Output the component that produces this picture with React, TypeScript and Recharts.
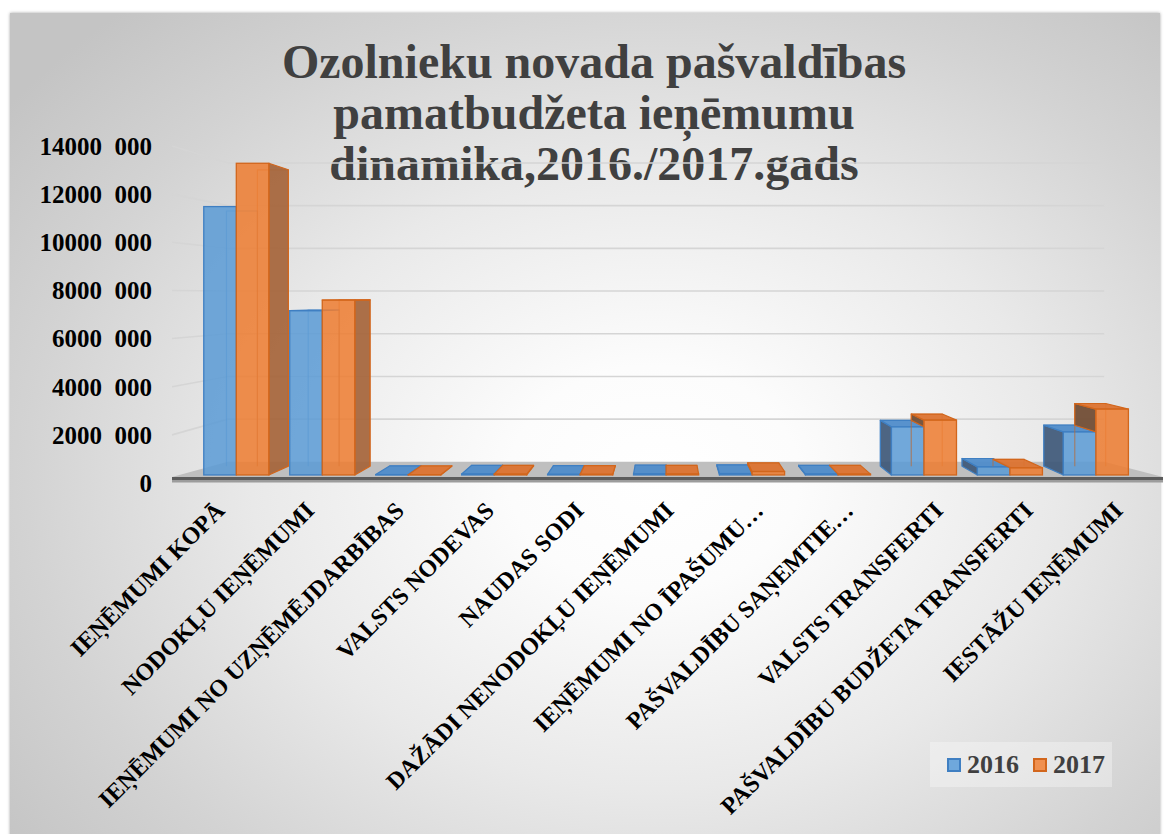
import React from 'react';
import { BarChart, Bar, XAxis, YAxis, CartesianGrid, Legend } from 'recharts';

const CATEGORIES = [
  'IEŅĒMUMI KOPĀ',
  'NODOKĻU IEŅĒMUMI',
  'IEŅĒMUMI NO UZŅĒMĒJDARBĪBAS',
  'VALSTS NODEVAS',
  'NAUDAS SODI',
  'DAŽĀDI NENODOKĻU IEŅĒMUMI',
  'IEŅĒMUMI NO ĪPAŠUMU…',
  'PAŠVALDĪBU SAŅEMTIE…',
  'VALSTS TRANSFERTI',
  'PAŠVALDĪBU BUDŽETA TRANSFERTI',
  'IESTĀŽU IEŅĒMUMI',
];
const VALUES_2016 = [11650000, 7130000, 15000, 40000, 25000, 45000, 60000, 40000, 2090000, 350000, 1870000];
const VALUES_2017 = [13530000, 7590000, 12000, 35000, 25000, 40000, 150000, 35000, 2380000, 310000, 2860000];
const SERIES = ['2016', '2017'];
const KEYS = ['y2016', 'y2017'];
const Y_TICKS = [0, 2000000, 4000000, 6000000, 8000000, 10000000, 12000000, 14000000];
const TITLE_LINES = ['Ozolnieku novada pašvaldības', 'pamatbudžeta ieņēmumu', 'dinamika,2016./2017.gads'];

const data = CATEGORIES.map((name, i) => ({ name, y2016: VALUES_2016[i], y2017: VALUES_2017[i] }));

const W = 1167;
const H = 834;
const PLOT_BOTTOM = 483;
const FONT = "'Liberation Serif', 'Times New Roman', serif";

// perspective helpers
const VP_X = 666;
const VP_Y = 296;
const S_FRONT = 0.957;
const S_BACK = 0.91;
const S_WALL = 0.887;
const proj = (x: number, y: number, s: number): [number, number] => [VP_X + (x - VP_X) * s, VP_Y + (y - VP_Y) * s];
const pts = (arr: [number, number][]) => arr.map((p) => `${p[0].toFixed(2)},${p[1].toFixed(2)}`).join(' ');

const COLORS = [
  { front: '#5b9bd5', edge: '#3f7fc2', sideR: '#4a739c', sideL: '#3e5878', top: '#4f8cca', legend: '#6fa8dc' },
  { front: '#ed7d31', edge: '#d2661c', sideR: '#a5643a', sideL: '#6f4a31', top: '#dc7330', legend: '#f0904f' },
];

const makeShape = (si: number) => (props: any) => {
  const { x, y, width, height, payload } = props;
  if (x == null || y == null || !payload) return <g />;
  const c = COLORS[si];
  const X0 = x;
  const X1 = x + width;
  const Yt = y;
  const Yb = y + height;
  const own = payload[KEYS[si]];
  const other = payload[KEYS[1 - si]];
  const pxPer = own > 0 ? height / own : 0;
  const otherTop = Yb - other * pxPer;

  const A = proj(X0, Yt, S_FRONT);
  const B = proj(X1, Yt, S_FRONT);
  const C = proj(X1, Yb, S_FRONT);
  const A2 = proj(X0, Yt, S_BACK);
  const B2 = proj(X1, Yt, S_BACK);
  const C2 = proj(X1, Yb, S_BACK);
  const D2 = proj(X0, Yb, S_BACK);

  let side: React.ReactNode = null;
  if (X1 <= VP_X + 0.5) {
    const yLim = si === 0 ? Math.min(Yb, otherTop) : Yb;
    if (yLim > Yt) {
      side = (
        <polygon
          points={pts([proj(X1, Yt, S_FRONT), proj(X1, Yt, S_BACK), proj(X1, yLim, S_BACK), proj(X1, yLim, S_FRONT)])}
          fill={c.sideR}
          fillOpacity={0.92}
          stroke={c.edge}
          strokeWidth={1.2}
          strokeLinejoin="round"
        />
      );
    }
  } else if (X0 >= VP_X - 0.5) {
    const yLim = si === 1 ? Math.min(Yb, otherTop) : Yb;
    if (yLim > Yt) {
      side = (
        <polygon
          points={pts([proj(X0, Yt, S_FRONT), proj(X0, Yt, S_BACK), proj(X0, yLim, S_BACK), proj(X0, yLim, S_FRONT)])}
          fill={c.sideL}
          fillOpacity={0.92}
          stroke={c.edge}
          strokeWidth={1.2}
          strokeLinejoin="round"
        />
      );
    }
  }
  const topFace =
    Yt > VP_Y ? (
      <polygon points={pts([A, B, B2, A2])} fill={c.top} fillOpacity={0.95} stroke={c.edge} strokeWidth={1.2} strokeLinejoin="round" />
    ) : null;

  return (
    <g>
      <polyline points={pts([D2, A2, B2, C2])} fill="none" stroke={c.edge} strokeOpacity={0.55} strokeWidth={1.2} />
      {side}
      {topFace}
      <rect
        x={A[0]}
        y={A[1]}
        width={Math.max(0, C[0] - A[0])}
        height={Math.max(0, C[1] - A[1])}
        fill={c.front}
        fillOpacity={0.86}
        stroke={c.edge}
        strokeWidth={1.3}
      />
    </g>
  );
};

const shape2016 = makeShape(0);
const shape2017 = makeShape(1);

const gridLine = (p: any) => {
  const y = p.y1;
  const xl = p.x1;
  const xr = p.x2;
  if (Math.abs(y - PLOT_BOTTOM) < 1) {
    const bl = proj(xl, y, S_WALL);
    const br = proj(xr, y, S_WALL);
    return (
      <g key={p.key}>
        <polygon points={pts([[xl, y - 6], [xr + 3, y - 6], br, bl])} fill="#bfbfbf" />
        <rect x={xl} y={y - 6} width={xr - xl + 3} height={3} fill="#5c5c5c" />
        <rect x={xl} y={y - 3} width={xr - xl + 3} height={2.5} fill="#9c9c9c" />
      </g>
    );
  }
  const b1 = proj(xl, y, S_WALL);
  const b2 = proj(xr, y, S_WALL);
  return (
    <polyline key={p.key} points={pts([[xl, y], b1, b2])} fill="none" stroke="#d5d5d5" strokeWidth={1.6} />
  );
};

const XTick = (props: any) => {
  const { x, y, payload } = props;
  const ax = x + 9;
  const ay = y + 29;
  return (
    <text
      x={ax}
      y={ay}
      transform={`rotate(-45 ${ax} ${ay})`}
      textAnchor="end"
      fontFamily={FONT}
      fontSize={24}
      fontWeight={700}
      fill="#000"
    >
      {payload.value}
    </text>
  );
};

const yFormat = (v: number) => (v === 0 ? '0' : `${v / 1000}\u00A0\u00A0000`);

const LegendContent = (props: any) => {
  const payload = props.payload || [];
  return (
    <div
      style={{
        display: 'flex',
        alignItems: 'center',
        height: 45,
        width: 182,
        background: 'rgba(255,255,255,0.32)',
        boxSizing: 'border-box',
        paddingLeft: 17,
      }}
    >
      {payload.map((e: any, i: number) => (
        <div key={i} style={{ display: 'flex', alignItems: 'center', marginRight: i === 0 ? 14 : 0 }}>
          <span
            style={{
              display: 'inline-block',
              width: 14,
              height: 14,
              background: COLORS[i].legend,
              border: `2px solid ${COLORS[i].edge}`,
              boxSizing: 'border-box',
              marginRight: 6,
            }}
          />
          <span style={{ fontFamily: FONT, fontWeight: 700, fontSize: 26, color: '#404040', lineHeight: '45px' }}>
            {e.value}
          </span>
        </div>
      ))}
    </div>
  );
};

export default function App() {
  return (
    <div style={{ position: 'absolute', left: 0, top: 0, width: W, height: H, overflow: 'hidden', background: '#fff' }}>
      <div
        style={{
          position: 'absolute',
          left: 10,
          top: 13,
          width: 1150,
          height: 830,
          background:
            'radial-gradient(ellipse 70% 75% at 56% 56%, #ffffff 0%, #fcfcfc 18%, #e9e9e9 50%, #d3d3d3 78%, #c4c4c4 100%)',
          boxShadow: '0 0 3px rgba(0,0,0,0.35)',
        }}
      />
      <div
        style={{
          position: 'absolute',
          left: 244,
          top: 36,
          width: 700,
          textAlign: 'center',
          fontFamily: FONT,
          fontWeight: 700,
          fontSize: 48,
          lineHeight: '51px',
          color: '#404040',
          whiteSpace: 'nowrap',
        }}
      >
        {TITLE_LINES.map((t, i) => (
          <div key={i}>{t}</div>
        ))}
      </div>
      <div style={{ position: 'absolute', left: 0, top: 0 }}>
        <BarChart
          width={W}
          height={H}
          data={data}
          margin={{ top: 146, right: 7, bottom: 266, left: 0 }}
          barCategoryGap={11}
          barGap={0}
        >
          <CartesianGrid vertical={false} horizontal={gridLine} />
          <XAxis
            dataKey="name"
            interval={0}
            axisLine={false}
            tickLine={false}
            tickSize={0}
            tickMargin={0}
            height={40}
            tick={<XTick />}
          />
          <YAxis
            type="number"
            domain={[0, 14000000]}
            ticks={Y_TICKS}
            interval={0}
            width={172}
            axisLine={false}
            tickLine={false}
            tickSize={0}
            tickMargin={20}
            tickFormatter={yFormat}
            tick={{ fill: '#000', fontSize: 25, fontWeight: 700, fontFamily: FONT }}
          />
          <Legend
            verticalAlign="bottom"
            content={<LegendContent />}
            wrapperStyle={{ position: 'absolute', left: 930, top: 742, bottom: 'auto', width: 182, height: 45 }}
          />
          <Bar dataKey="y2016" name={SERIES[0]} fill={COLORS[0].front} shape={shape2016} isAnimationActive={false} />
          <Bar dataKey="y2017" name={SERIES[1]} fill={COLORS[1].front} shape={shape2017} isAnimationActive={false} />
        </BarChart>
      </div>
    </div>
  );
}
